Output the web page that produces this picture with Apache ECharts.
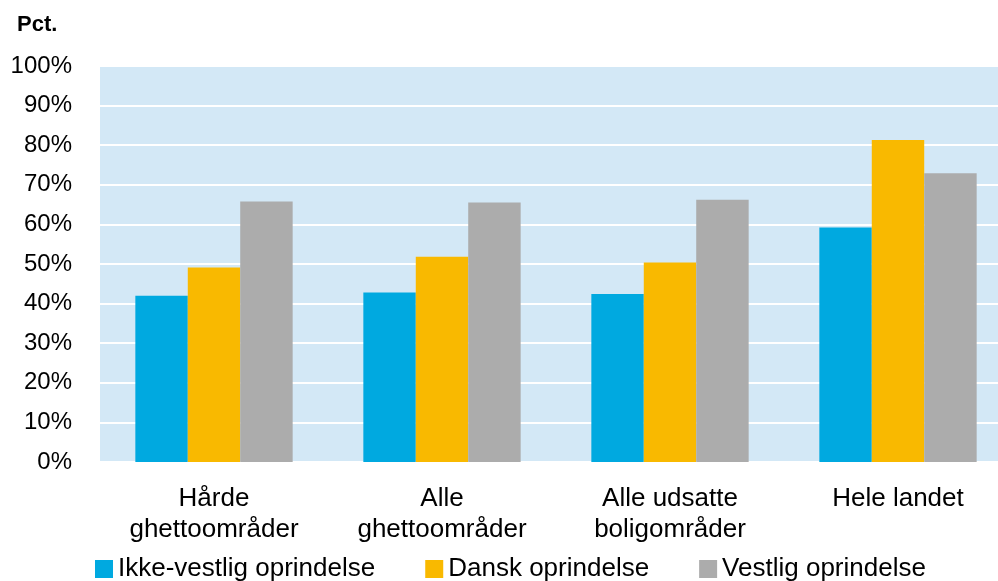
<!DOCTYPE html>
<html>
<head>
<meta charset="utf-8">
<script src="https://cdn.jsdelivr.net/npm/echarts@6/dist/echarts.min.js"></script>
<style>
    html, body { margin: 0; padding: 0; background: #fff; }
    #chart_con { width: 998px; height: 581px; }
</style>
</head>
<body>
<div id="chart_con"></div>
<script>
const categories = ['Hårde\nghettoområder', 'Alle\nghettoområder', 'Alle udsatte\nboligområder', 'Hele landet'];
const yTicks = [0, 10, 20, 30, 40, 50, 60, 70, 80, 90, 100];
const ikkeVestlig = [42.0, 42.8, 42.4, 59.2];
const dansk = [49.1, 51.8, 50.4, 81.3];
const vestlig = [65.8, 65.5, 66.2, 72.9];

const font = 'Liberation Sans, Arial, sans-serif';
let chart = echarts.init(document.getElementById('chart_con'));

const option = {
    animation: false,
    title: {
        text: 'Pct.',
        left: 12,
        top: 9,
        textStyle: { fontFamily: font, fontSize: 22, fontWeight: 'bold', color: '#000' }
    },
    legend: {
        left: 90,
        top: 551,
        itemWidth: 18,
        itemHeight: 18,
        itemGap: 50,
        icon: 'rect',
        textStyle: { fontFamily: font, fontSize: 26, color: '#000' },
        data: ['Ikke-vestlig oprindelse', 'Dansk oprindelse', 'Vestlig oprindelse']
    },
    grid: {
        show: true,
        backgroundColor: '#d3e8f6',
        borderWidth: 0,
        outerBoundsMode: 'none',
        left: 100,
        width: 912,
        top: 66,
        bottom: 119
    },
    xAxis: {
        type: 'category',
        data: categories,
        axisLine: { show: false },
        axisTick: { show: false },
        axisLabel: {
            margin: 21,
            fontFamily: font,
            fontSize: 26,
            lineHeight: 31,
            color: '#000'
        }
    },
    yAxis: {
        type: 'value',
        min: 0,
        max: 100,
        interval: 10,
        axisLine: { show: false },
        axisTick: { show: false },
        splitLine: { lineStyle: { color: '#ffffff', width: 2 } },
        axisLabel: {
            margin: 28,
            fontFamily: font,
            fontSize: 24,
            color: '#000',
            formatter: function (v) { return yTicks.indexOf(v) >= 0 ? v + '%' : ''; }
        }
    },
    series: [
        { name: 'Ikke-vestlig oprindelse', type: 'bar', data: ikkeVestlig, barGap: '0%', barCategoryGap: '31%',
          itemStyle: { color: '#00a9e0' } },
        { name: 'Dansk oprindelse', type: 'bar', data: dansk,
          itemStyle: { color: '#f9b900' } },
        { name: 'Vestlig oprindelse', type: 'bar', data: vestlig,
          itemStyle: { color: '#acacac' } }
    ]
};

chart.setOption(option);
window.addEventListener('resize', function () { chart.resize(); });
</script>
</body>
</html>
